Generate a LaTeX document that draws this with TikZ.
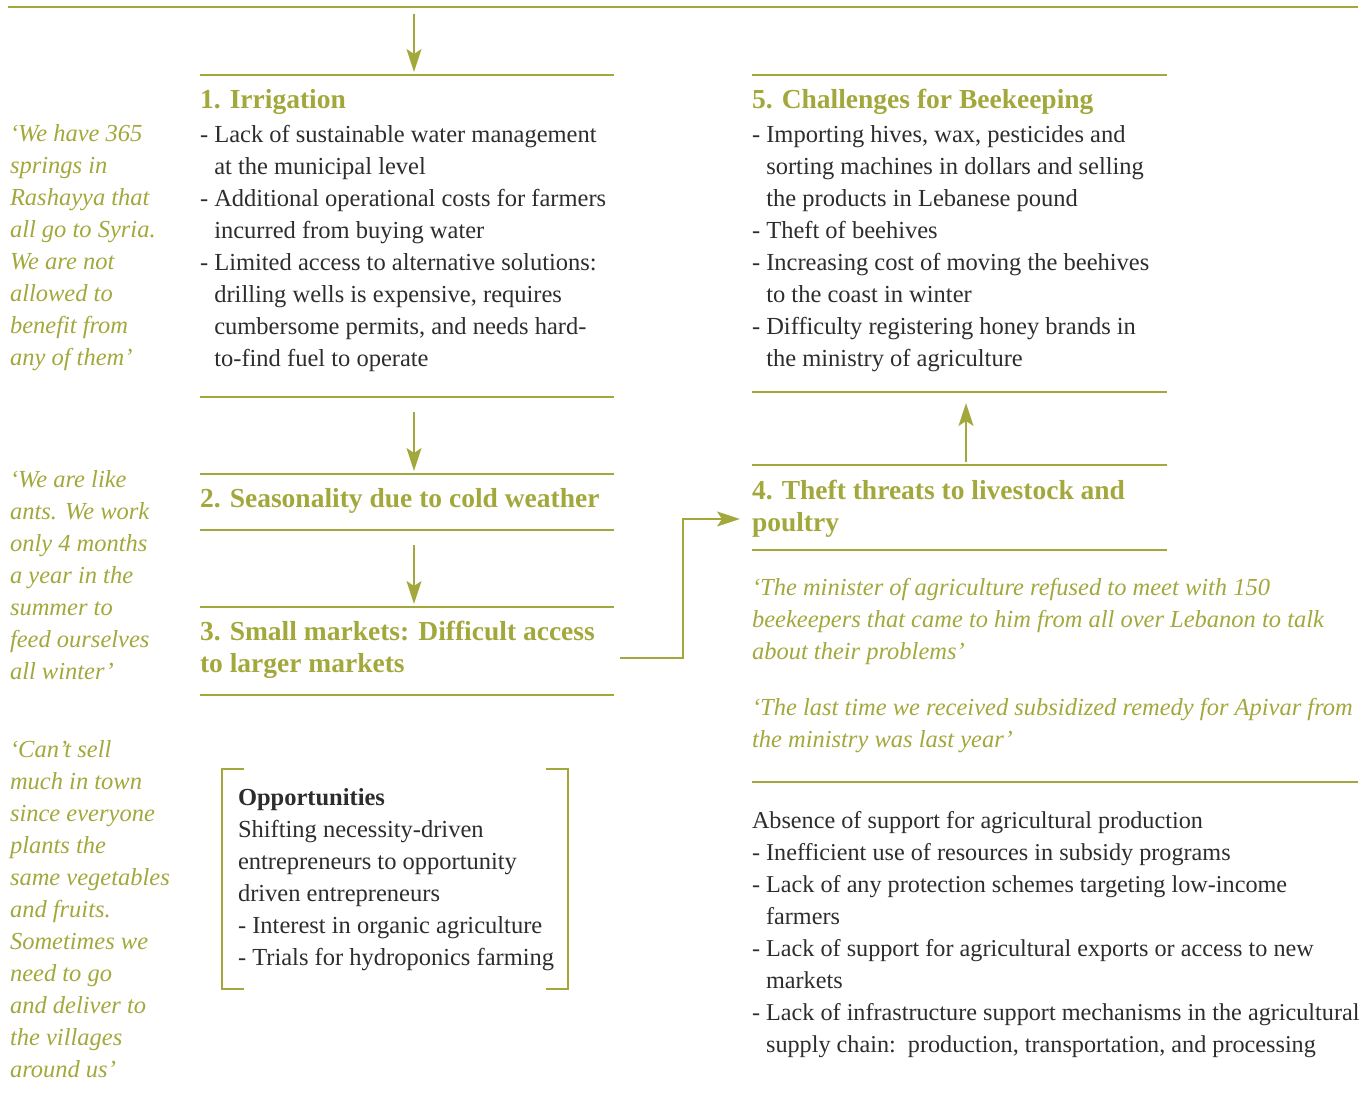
\documentclass[tikz,border=0pt]{standalone}
\usepackage{fontspec}
\setmainfont{Liberation Serif}
\usetikzlibrary{arrows.meta}
\definecolor{oliveA}{RGB}{163,168,60}
\definecolor{darkT}{RGB}{45,45,45}
\newcommand\st{\rule{0pt}{22pt}}
\newcommand\ind{\hphantom{-}\ }
\tikzset{
  ln/.style={draw=oliveA, line width=1.6pt},
  arr/.style={draw=oliveA, line width=1.6pt, -{Stealth[length=23pt,width=15pt,inset=5pt]}},
  boxarea/.style={inner sep=0pt, outer sep=0pt, draw=none},
  txt/.style={anchor=north west, inner sep=0pt, outer sep=0pt, align=left, font=\fontsize{24.5}{32}\selectfont, text=darkT},
  ttl/.style={txt, font=\fontsize{27.5}{32}\selectfont\bfseries, text=oliveA},
  quo/.style={txt, font=\fontsize{24.5}{32}\selectfont\itshape, text=oliveA}
}
\begin{document}
\begin{tikzpicture}[x=1pt,y=-1pt]
\useasboundingbox (0,0) rectangle (1371,1094);
% top line
\coordinate (tl) at (8,7);
\coordinate (tr) at (1358,7);
\coordinate (ta) at (414,7);
\coordinate (ua) at (966,0);
\draw[ln] (tl) -- (tr);
% box areas
\node[boxarea, minimum width=414pt, minimum height=322pt] (b1) at (407,236) {};
\node[boxarea, minimum width=414pt, minimum height=56pt] (b2) at (407,502) {};
\node[boxarea, minimum width=414pt, minimum height=88pt] (b3) at (407,651) {};
\node[boxarea, minimum width=415pt, minimum height=85pt] (b4) at (959.5,507.5) {};
\node[boxarea, minimum width=415pt, minimum height=317pt] (b5) at (959.5,233.5) {};
\foreach \b in {b1,b2,b3,b4,b5}{
  \draw[ln] (\b.north west) -- (\b.north east);
  \draw[ln] (\b.south west) -- (\b.south east);
}
% arrows
\draw[arr, shorten <=7pt, shorten >=3pt] (ta) -- (ta |- b1.north);
\draw[arr, shorten <=15pt, shorten >=3pt] (ta |- b1.south) -- (ta |- b2.north);
\draw[arr, shorten <=15pt, shorten >=3pt] (ta |- b2.south) -- (ta |- b3.north);
\draw[arr, shorten <=3pt, shorten >=11pt] (ua |- b4.north) -- (ua |- b5.south);
\coordinate (c3) at (620,658);
\coordinate (c4) at (740,519);
\draw[arr] (c3) -- (683,658) |- (c4);
% titles and bodies
\node[ttl] (t1) at (200,87) {\st 1. Irrigation};
\node[txt] (x1) at (200,120) {\st - Lack of sustainable water management\\
\ind at the municipal level\\
- Additional operational costs for farmers\\
\ind incurred from buying water\\
- Limited access to alternative solutions:\\
\ind drilling wells is expensive, requires\\
\ind cumbersome permits, and needs hard-\\
\ind to-find fuel to operate};
\node[ttl] (t2) at (200,485) {\st 2. Seasonality due to cold weather};
\node[ttl] (t3) at (200,618) {\st 3. Small markets: Difficult access\\to larger markets};
\node[ttl] (t4) at (752,477) {\st 4. Theft threats to livestock and\\poultry};
\node[ttl] (t5) at (752,87) {\st 5. Challenges for Beekeeping};
\node[txt] (x5) at (752,120) {\st - Importing hives, wax, pesticides and\\
\ind sorting machines in dollars and selling\\
\ind the products in Lebanese pound\\
- Theft of beehives\\
- Increasing cost of moving the beehives\\
\ind to the coast in winter\\
- Difficulty registering honey brands in\\
\ind the ministry of agriculture};
% right quotes
\node[quo] (q4a) at (752,573) {\st ‘The minister of agriculture refused to meet with 150\\
beekeepers that came to him from all over Lebanon to talk\\
about their problems’};
\node[quo] (q4b) at (752,693) {\st ‘The last time we received subsidized remedy for Apivar from\\
the ministry was last year’};
\coordinate (rl) at (752,782);
\coordinate (rr) at (1358,782);
\draw[ln] (rl) -- (rr);
\node[txt, font=\fontsize{24.2}{32}\selectfont] (abs) at (752,806) {\st Absence of support for agricultural production\\
- Inefficient use of resources in subsidy programs\\
- Lack of any protection schemes targeting low-income\\
\ind farmers\\
- Lack of support for agricultural exports or access to new\\
\ind markets\\
- Lack of infrastructure support mechanisms in the agricultural\\
\ind supply chain:\ \ production, transportation, and processing};
% left quotes
\node[quo] (q1) at (10,119) {\st ‘We have 365\\springs in\\Rashayya that\\all go to Syria.\\We are not\\allowed to\\benefit from\\any of them’};
\node[quo] (q2) at (10,465) {\st ‘We are like\\ants. We work\\only 4 months\\a year in the\\summer to\\feed ourselves\\all winter’};
\node[quo] (q3) at (10,735) {\st ‘Can’t sell\\much in town\\since everyone\\plants the\\same vegetables\\and fruits.\\Sometimes we\\need to go\\and deliver to\\the villages\\around us’};
% opportunities
\node[boxarea, minimum width=346pt, minimum height=220pt] (op) at (395,879) {};
\draw[ln, line width=1.3pt] ([xshift=22pt]op.north west) -- (op.north west) -- (op.south west) -- ([xshift=22pt]op.south west);
\draw[ln, line width=1.3pt] ([xshift=-22pt]op.north east) -- (op.north east) -- (op.south east) -- ([xshift=-22pt]op.south east);
\node[txt] (opt) at (238,783) {\st\textbf{Opportunities}\\
Shifting necessity-driven\\
entrepreneurs to opportunity\\
driven entrepreneurs\\
- Interest in organic agriculture\\
- Trials for hydroponics farming};
\end{tikzpicture}
\end{document}
